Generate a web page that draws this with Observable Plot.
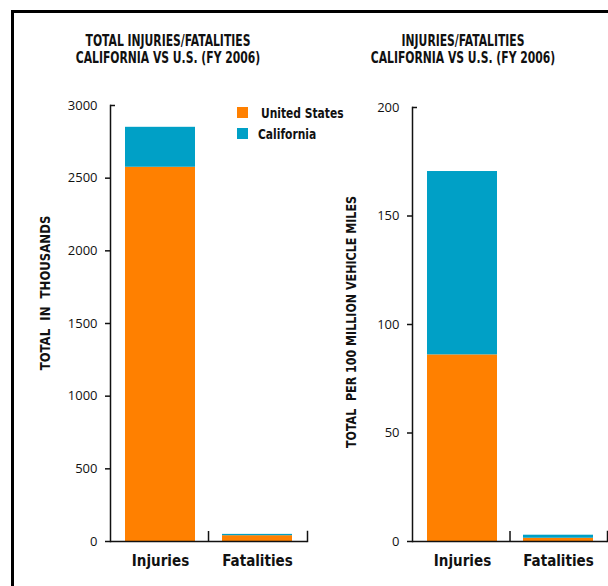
<!DOCTYPE html>
<html>
<head>
<meta charset="utf-8">
<script src="https://cdn.jsdelivr.net/npm/d3@7"></script>
<script src="https://cdn.jsdelivr.net/npm/@observablehq/plot@0.6"></script>
<style>
  html, body { margin: 0; padding: 0; background: #fff; }
  #root { position: relative; width: 608px; height: 586px; overflow: hidden; background: #fff; }
  #frame { position: absolute; left: 11px; top: 10px; width: 700px; height: 700px;
           border-left: 3px solid #000; border-top: 3px solid #000; box-sizing: border-box; }
  .cond { font-family: "Liberation Sans Narrow", "DejaVu Sans Condensed", "Arial Narrow", sans-serif; font-weight: bold; color: #111; }
  .title { position: absolute; width: 300px; text-align: center; font-size: 15px; line-height: 17px; transform: scaleX(0.8); transform-origin: 150px 0; }
  .ylab { position: absolute; white-space: pre; font-size: 14px; }
  .plot { position: absolute; top: 0; }
  .leg { position: absolute; font-size: 14px; line-height: 14px; white-space: pre; transform: scaleX(0.85); transform-origin: 0 0; }
  .sw { position: absolute; width: 11px; height: 11px; }
</style>
</head>
<body>
<div id="root">
  <div id="frame"></div>
  <div class="title cond" style="left:18px; top:33px;">TOTAL INJURIES/FATALITIES<br>CALIFORNIA VS U.S. (FY 2006)</div>
  <div class="title cond" style="left:313px; top:33px;">INJURIES/FATALITIES<br>CALIFORNIA VS U.S. (FY 2006)</div>
  <div class="ylab cond" style="left:45px; top:293px; transform: translate(-50%, -50%) rotate(-90deg) scaleX(0.93);">TOTAL  IN  THOUSANDS</div>
  <div class="ylab cond" style="left:351px; top:322px; transform: translate(-50%, -50%) rotate(-90deg) scaleX(0.88);">TOTAL  PER 100 MILLION VEHICLE MILES</div>
  <div id="left" class="plot" style="left:0px;"></div>
  <div id="right" class="plot" style="left:300px;"></div>
  <div id="legend"></div>
</div>
<script>
const categories = ["Injuries", "Fatalities"];
const series = ["United States", "California"];
const totalUS = [2575, 40];
const totalCA = [275, 9];
const rateUS = [86, 1.5];
const rateCA = [84.5, 1.4];
const totalTicks = [0, 500, 1000, 1500, 2000, 2500, 3000];
const rateTicks = [0, 50, 100, 150, 200];
const colors = ["#ff8000", "#00a0c6"];

const condFont = "'Liberation Sans Narrow', 'DejaVu Sans Condensed', 'Arial Narrow', sans-serif";

function panel({us, ca, ticks, width, marginLeft, marginRight, marginTop}) {
  const data = categories.flatMap((c, i) => [
    {cat: c, series: series[0], value: us[i]},
    {cat: c, series: series[1], value: ca[i]}
  ]);
  const height = 586, marginBottom = 45;
  const pi = 0.275, po = 0.143;
  const step = (width - marginLeft - marginRight) / (categories.length - pi + 2 * po);
  const fh = height - marginTop - marginBottom;
  const max = ticks[ticks.length - 1];
  const ax = {stroke: "#111", strokeWidth: 1.5};
  return Plot.plot({
    width, height, marginLeft, marginRight, marginTop, marginBottom,
    style: {background: "transparent", overflow: "visible", fontFamily: "'Open Sans', sans-serif", color: "#111"},
    x: {domain: categories, paddingInner: pi, paddingOuter: po, axis: null, label: null},
    y: {domain: [0, max], axis: null, label: null},
    color: {domain: series, range: colors},
    marks: [
      Plot.barY(data, {x: "cat", y: "value", fill: "series"}),
      Plot.frame({anchor: "left", ...ax}),
      Plot.ruleY([0], ax),
      Plot.ruleX([categories[1]], {dx: -step / 2, insetTop: fh - 10, ...ax}),
      Plot.frame({anchor: "right", insetTop: fh - 10, ...ax}),
      Plot.axisY({ticks, tickSize: 0, tickPadding: 13, fontSize: 13, label: null, tickFormat: d => String(d)}),
      Plot.axisY({ticks: ticks.slice(0, -1), tickSize: 5, strokeWidth: 1.5, label: null, tickFormat: () => ""}),
      Plot.axisY({ticks: [max], tickSize: 5, dx: 5, strokeWidth: 1.5, label: null, tickFormat: () => ""}),
      Plot.axisX({tickSize: 0, tickPadding: 14, fontSize: 15, fontWeight: "bold", fontFamily: condFont, label: null})
    ]
  });
}

document.getElementById("left").append(panel({
  us: totalUS, ca: totalCA, ticks: totalTicks, width: 320, marginLeft: 110, marginRight: 13, marginTop: 105
}));
document.getElementById("right").append(panel({
  us: rateUS, ca: rateCA, ticks: rateTicks, width: 308, marginLeft: 112, marginRight: 1, marginTop: 107
}));

const legend = document.getElementById("legend");
const legTops = [107, 128];
const legText = [261, 258];
series.forEach((s, i) => {
  const sw = document.createElement("div");
  sw.className = "sw";
  sw.style.left = "237px";
  sw.style.top = legTops[i] + "px";
  sw.style.background = colors[i];
  legend.append(sw);
  const t = document.createElement("div");
  t.className = "leg cond";
  t.style.left = legText[i] + "px";
  t.style.top = (legTops[i] - 1) + "px";
  t.textContent = s;
  legend.append(t);
});
</script>
</body>
</html>
